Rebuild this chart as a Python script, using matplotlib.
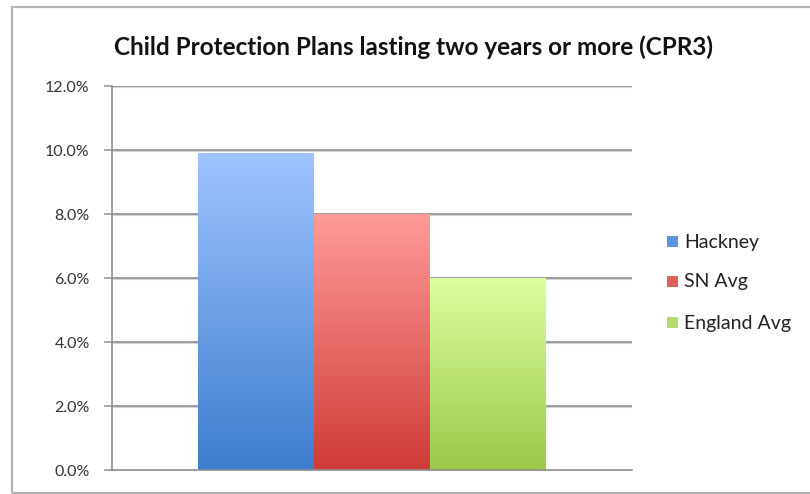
import numpy as np
import matplotlib
matplotlib.use('Agg')
import matplotlib.pyplot as plt
from matplotlib.colors import LinearSegmentedColormap
from matplotlib.patches import Rectangle
from matplotlib.ticker import FuncFormatter

plt.rcParams['font.family'] = ['Lato', 'DejaVu Sans']

title = 'Child Protection Plans lasting two years or more (CPR3)'
series = ['Hackney', 'SN Avg', 'England Avg']
values = [9.9, 8.0, 6.0]
# top and bottom shade of each bar's gradient
tops = ['#9fc4ff', '#ff9b99', '#dcff9f']
bottoms = ['#3d7dcd', '#cf3b37', '#9cc849']
swatches = ['#5b93e0', '#e0605c', '#b6dc6e']
yticks = [0, 2, 4, 6, 8, 10, 12]

W, H = 810, 494
fig = plt.figure(figsize=(W / 100, H / 100), dpi=100)
fig.patch.set_facecolor('white')

# outer chart border
fig.patches.append(Rectangle((12 / W, 1 / H), 1.0, 486 / H, transform=fig.transFigure,
                             fill=False, edgecolor='#b4b4b4', linewidth=1.6))

ax = fig.add_axes([112 / W, 24 / H, 520 / W, 384 / H])

for y in yticks[1:]:
    ax.axhline(y, color='#d4d4d4', lw=2.2, zorder=0)
    ax.axhline(y, color='#8e8e8e', lw=1.1, zorder=0.5)

xs = np.arange(len(values)) - 1
bars = ax.bar(xs, values, width=1.0, color='none', edgecolor='none', zorder=2)
grad = np.linspace(0, 1, 256).reshape(-1, 1)
for bar, top, bot, val, x in zip(bars, tops, bottoms, values, xs):
    cmap = LinearSegmentedColormap.from_list('g', [bot, top])
    im = ax.imshow(grad, cmap=cmap, aspect='auto', origin='lower',
                   extent=(x - 0.5, x + 0.5, 0, val), zorder=2)
    im.set_clip_path(bar)
ax.set_xlim(-2.2414, 2.2414)
ax.set_ylim(0, 12)

for s in ['top', 'right']:
    ax.spines[s].set_visible(False)
for s in ['left', 'bottom']:
    ax.spines[s].set_color('#8e8e8e')
    ax.spines[s].set_linewidth(1.2)
ax.spines['bottom'].set_zorder(3)
ax.set_xticks([])
ax.set_yticks(yticks)
ax.yaxis.set_major_formatter(FuncFormatter(lambda v, p: f'{v:.1f}%'))
ax.tick_params(axis='y', length=6, width=1.1, color='#8e8e8e', pad=10,
               labelsize=11.5, labelcolor='#333333')

fig.text(414 / W, 1 - 47 / H, title, ha='center', va='center',
         fontsize=17.5, fontweight='bold', color='#111111')

legend_y = [242, 282, 323]
for name, sw_col, ly in zip(series, swatches, legend_y):
    sw = Rectangle((667 / W, 1 - (ly + 5) / H), 11 / W, 11 / H, transform=fig.transFigure,
                   facecolor=sw_col, edgecolor='none')
    fig.patches.append(sw)
    fig.text(684 / W, 1 - ly / H, name, ha='left', va='center',
             fontsize=14, color='#222222')

fig.savefig('out.png', dpi=100)
